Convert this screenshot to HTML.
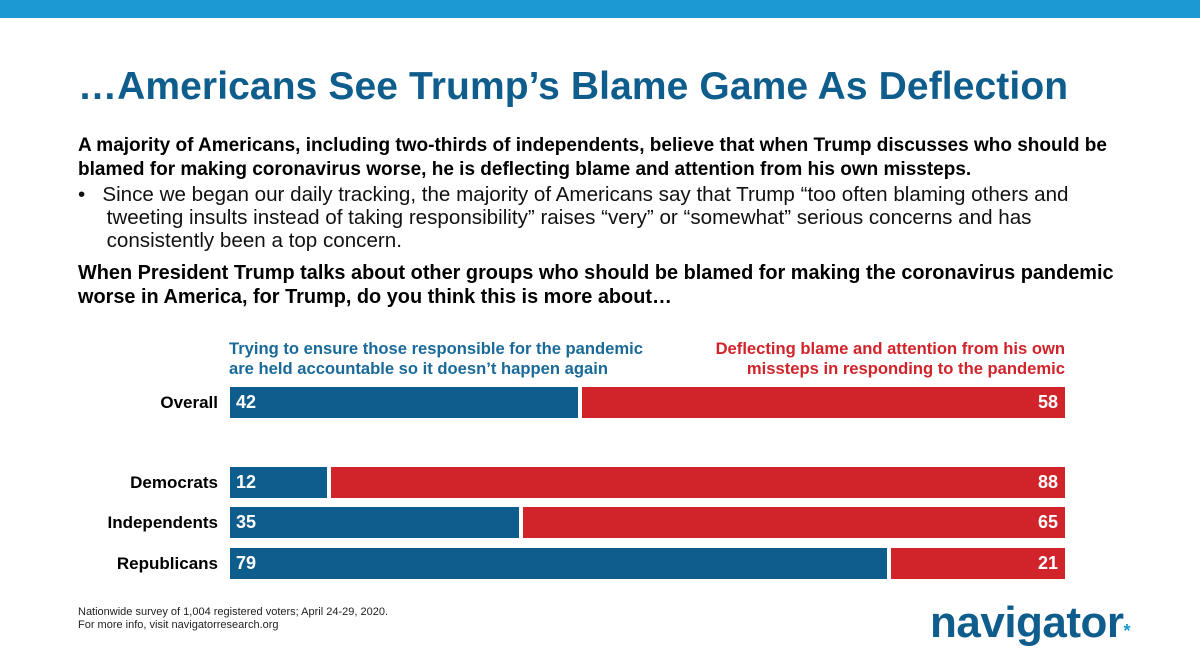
<!DOCTYPE html>
<html><head><meta charset="utf-8"><style>
body{margin:0;width:1200px;height:672px;background:#fff;font-family:"Liberation Sans",sans-serif;position:relative;overflow:hidden}
.a{position:absolute;margin:0;white-space:nowrap}
</style></head><body>
<div class="a" style="left:0;top:0;width:1200px;height:18px;background:#1b9ad2"></div>
<div class="a" style="left:78px;top:65px;font-size:39px;font-weight:bold;color:#0e5d8c;letter-spacing:0.1px">…Americans See Trump’s Blame Game As Deflection</div>
<div class="a" style="left:78px;top:134px;font-size:19px;font-weight:bold;line-height:24px;color:#000">A majority of Americans, including two-thirds of independents, believe that when Trump discusses who should be<br>blamed for making coronavirus worse, he is deflecting blame and attention from his own missteps.</div>
<div class="a" style="left:78px;top:183px;font-size:20.6px;line-height:23px;color:#111">•&nbsp;&nbsp;&nbsp;Since we began our daily tracking, the majority of Americans say that Trump “too often blaming others and<br>&nbsp;&nbsp;&nbsp;&nbsp;&nbsp;tweeting insults instead of taking responsibility” raises “very” or “somewhat” serious concerns and has<br>&nbsp;&nbsp;&nbsp;&nbsp;&nbsp;consistently been a top concern.</div>
<div class="a" style="left:78px;top:261px;font-size:19.9px;font-weight:bold;line-height:24px;color:#000">When President Trump talks about other groups who should be blamed for making the coronavirus pandemic<br>worse in America, for Trump, do you think this is more about…</div>
<div class="a" style="left:229px;top:339px;font-size:16.6px;font-weight:bold;line-height:20px;color:#1a6a99">Trying to ensure those responsible for the pandemic<br>are held accountable so it doesn’t happen again</div>
<div class="a" style="right:135px;top:339px;font-size:16.6px;font-weight:bold;line-height:20px;color:#d1232a;text-align:right">Deflecting blame and attention from his own<br>missteps in responding to the pandemic</div>
<div id="chart"></div>
<div class="a" style="left:78px;top:606px;font-size:11px;line-height:13px;color:#222">Nationwide survey of 1,004 registered voters; April 24-29, 2020.<br>For more info, visit navigatorresearch.org</div>
<div class="a" style="left:930px;top:598px;font-size:44px;font-weight:bold;color:#0e5d8c;letter-spacing:-0.5px">navigator<span style="color:#1b9ad2;font-size:18px">*</span></div>
<script>
const categories=["Overall","Democrats","Independents","Republicans"];
const blameValues=[42,12,35,79];
const deflectValues=[58,88,65,21];
const rowTops=[387,467,507,548];
const x0=230,w=835,h=31;
const xs=v=>x0+v/100*w;
const c=document.getElementById('chart');
categories.forEach((cat,i)=>{
 const y=rowTops[i];
 const l=document.createElement('div');
 l.className='a';
 
 
 l.style.cssText=`right:${1200-218}px;top:${y+6}px;font-size:17px;font-weight:bold;color:#000`;
 l.textContent=cat;c.appendChild(l);
 const split=xs(blameValues[i]);
 const b=document.createElement('div');
 b.className='a';
 
 
 b.style.cssText=`left:${x0}px;top:${y}px;width:${split-3-x0}px;height:${h}px;background:#0e5d8c;color:#fff;font-size:18px;font-weight:bold;line-height:${h}px;padding-left:6px;box-sizing:border-box`;
 b.textContent=blameValues[i];c.appendChild(b);
 const r=document.createElement('div');
 r.className='a';
 
 
 const end=xs(blameValues[i]+deflectValues[i]);
 r.style.cssText=`left:${split+1}px;top:${y}px;width:${end-split-1}px;height:${h}px;background:#d1232a;color:#fff;font-size:18px;font-weight:bold;line-height:${h}px;padding-right:7px;box-sizing:border-box;text-align:right`;
 r.textContent=deflectValues[i];c.appendChild(r);
});
</script>
</body></html>
